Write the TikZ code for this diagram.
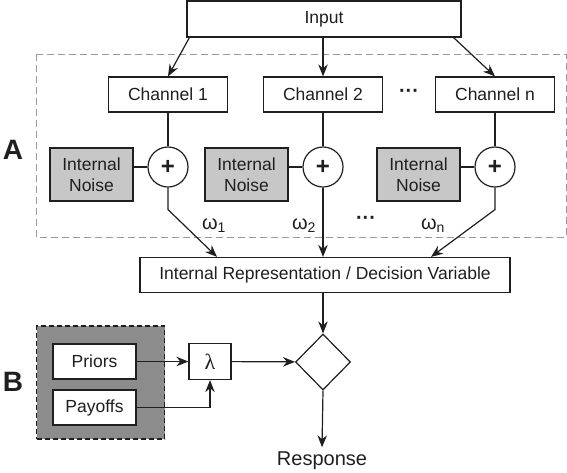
\documentclass[tikz,border=0pt]{standalone}
\usepackage{fontspec}
\setmainfont{Liberation Sans}
\newfontfamily\lamfont{Liberation Serif}
\usetikzlibrary{arrows.meta, shapes.geometric}

\begin{document}
\begin{tikzpicture}
  [
    x=1pt, y=-1pt,
    color=black!88, line width=1.2pt,
    >={Stealth[length=12pt,width=9.5pt]},
    box/.style={draw, fill=white, inner sep=0pt, font=\fontsize{17.5}{21}\selectfont},
    noise/.style={box, fill=black!22, align=center, minimum width=83pt, minimum height=53pt},
    chanbox/.style={box, minimum width=119pt, minimum height=35pt},
    sum/.style={draw, circle, fill=white, minimum size=40pt, inner sep=0pt, font=\fontsize{24}{24}\selectfont\bfseries},
    label/.style={anchor=base, font=\fontsize{20}{20}\selectfont},
    panel/.style={font=\fontsize{28}{28}\selectfont\bfseries},
    dots/.style={font=\fontsize{20}{21}\selectfont\bfseries}
  ]
  \useasboundingbox (0,0) rectangle (567,472);
  % panel A frame
  \draw[black!40, line width=0.9pt, dash pattern=on 7pt off 4pt] (36,54) rectangle (566,237);
  % panel B frame
  \node[draw, fill=black!45, dash pattern=on 5pt off 3pt, minimum width=128pt, minimum height=113pt] (prior) at (100.5,382.5) {};
  % input and channels
  \node[box, minimum width=274pt, minimum height=36pt] (input) at (324,19) {Input};
  \foreach \i/\x in {1/168, 2/323, n/495} {
      \node[chanbox] (chan\i) at (\x,94.5) {Channel \i};
      \node[sum] (sum\i) at (\x,167) {+};
      \node[noise] (noise\i) at (\x-76.5,174.5) {Internal\\Noise};
      \draw (chan\i) -- (sum\i);
      \draw (noise\i.east |- sum\i) -- (sum\i.west);
  }
  \node[dots] (dotsa) at (409,93) {···};
  % labels
  \node[label] (w1) at (214,229) {ω\textsubscript{1}};
  \node[label] (w2) at (304,229) {ω\textsubscript{2}};
  \node[dots] (dotsb) at (366,220) {···};
  \node[label] (wn) at (433,229) {ω\textsubscript{n}};
  \node[panel] (A) at (13,150) {A};
  \node[panel] (B) at (13,382) {B};
  % decision part
  \node[box, minimum width=370pt, minimum height=35pt] (ir) at (325,275) {Internal Representation / Decision Variable};
  \node[draw, diamond, fill=white, minimum width=55pt, minimum height=56pt, inner sep=0pt] (dec) at (323,362) {};
  \node[label] (resp) at (322,465) {Response};
  \node[box, minimum width=83pt, minimum height=35pt] (priors) at (94.5,361.5) {Priors};
  \node[box, minimum width=83pt, minimum height=35pt] (payoffs) at (94.5,407.5) {Payoffs};
  \node[box, minimum width=42pt, minimum height=36pt, font=\fontsize{22}{22}\lamfont] (lam) at (210,361.5) {λ};
  % input edges
  \draw[->] ([xshift=3pt]input.south west) -- (chan1.north);
  \draw[->] (input.south -| chan2) -- (chan2.north);
  \draw[->] ([xshift=-8pt]input.south east) -- (chann.north);
  % channel outputs
  \draw[->] (sum1.south) -- +(0,22) -- ([xshift=-108pt]ir.north);
  \draw[->] (sum2.south) -- (sum2.south |- ir.north);
  \draw[->] (sumn.south) -- +(0,22) -- ([xshift=106pt]ir.north);
  % decision edges
  \draw[->] (ir.south -| dec.north) -- (dec.north);
  \draw[->] (dec.south) -- (resp.north);
  \draw[->] (priors) -- (lam);
  \draw[->] (payoffs) -| (lam);
  \draw[->] (lam) -- (dec);
\end{tikzpicture}
\end{document}
